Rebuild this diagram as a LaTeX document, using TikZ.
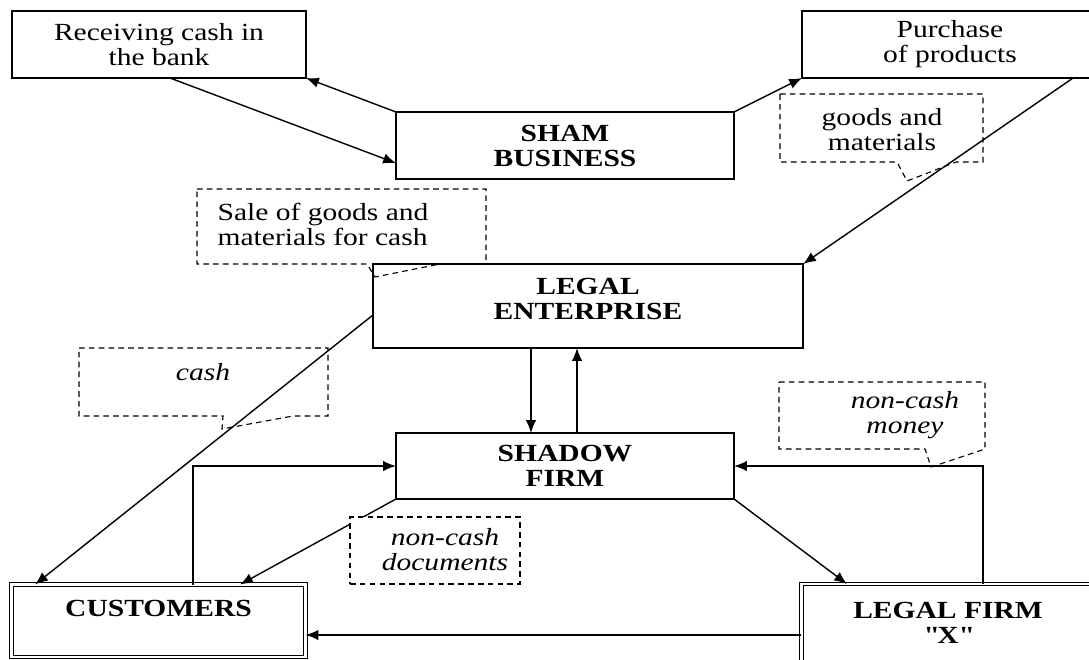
\documentclass[tikz,border=0pt]{standalone}
\usepackage{fontspec}
\setmainfont{Liberation Serif}[FakeStretch=1.2]
\usetikzlibrary{arrows.meta}
\tikzset{box/.style={draw, line width=0.9pt, align=center, inner sep=0pt, outer sep=0pt, font=\fontsize{17.5}{17.8}\selectfont}}
\tikzset{bbox/.style={box, font=\fontsize{17.5}{17.8}\selectfont\bfseries}}
\tikzset{dbox/.style={bbox, double, double distance=1.5pt, line width=0.8pt}}
\tikzset{note/.style={align=center, inner sep=0pt, font=\fontsize{17.5}{17.8}\selectfont}}
\tikzset{inote/.style={note, font=\fontsize{17.5}{17.8}\selectfont\itshape}}
\tikzset{dashbox/.style={line width=0.8pt, dash pattern=on 4pt off 3pt}}
\tikzset{link/.style={->, line width=1pt}}

\begin{document}
\begin{tikzpicture}[x=0.025cm, y=-0.025cm, >={Latex[length=3.2mm,width=2.6mm]}]
    \clip (0,0) rectangle (1089,659);

    \node[box, minimum width=7.35cm, minimum height=1.675cm] (bank) at (159,44.5) {Receiving cash in\\the bank};
    \node[box, minimum width=7.4cm, minimum height=1.675cm] (purchase) at (950,44.5) {Purchase\\of products};
    \node[bbox, minimum width=8.45cm, minimum height=1.675cm] (sham) at (565,145.5) {SHAM\\BUSINESS};
    \node[bbox, minimum width=10.75cm, minimum height=2.1cm] (legal) at (588,306) {LEGAL\\ENTERPRISE\\[-8pt]~};
    \node[bbox, minimum width=8.45cm, minimum height=1.65cm] (shadow) at (565,466) {SHADOW\\FIRM};
    \node[dbox, minimum width=7.35cm, minimum height=1.8125cm] (customers) at (158.5,620.75) {CUSTOMERS\\~};
    \node[dbox, minimum width=7.325cm, minimum height=1.95cm] (legalx) at (948,623) {LEGAL FIRM\\\textquotedbl X\textquotedbl};

    % callouts
    \draw[dashbox] (780,94) -- (983,94) -- (983,162) -- (956,162) -- (907,181) -- (897,162) -- (780,162) -- cycle;
    \node[note] (goodsnote) at (882,130) {goods and\\materials};
    \draw[dashbox] (197,189) -- (486,189) -- (486,264) -- (440,264) -- (375,277) -- (367,264) -- (197,264) -- cycle;
    \node[note, align=left] (salenote) at (323,224) {Sale of goods and\\materials for cash};
    \draw[dashbox] (79,348) -- (328,348) -- (328,416) -- (293,416) -- (222,429) -- (223,416) -- (79,416) -- cycle;
    \node[inote] (cashnote) at (203,372) {cash};
    \draw[dashbox] (779,382) -- (985,382) -- (985,449) -- (931,467) -- (925,449) -- (779,449) -- cycle;
    \node[inote] (moneynote) at (905,415) {non-cash\\money};

    \draw[link] ([xshift=0.275cm]bank.south) -- ([yshift=-0.44cm]sham.west);
    \draw[link] (sham.north west) -- (bank.south east);
    \draw[link] (sham.north east) -- (purchase.south west);
    \draw[link] ([xshift=3.075cm]purchase.south) -- (legal.north east);
    \draw[link] ([yshift=-0.225cm]legal.west) -- ([xshift=0.59cm]customers.north west);
    \draw[link] ([xshift=-1.425cm]legal.south) -- ([xshift=-1.425cm]legal.south |- shadow.north);
    \draw[link] ([xshift=0.3cm]shadow.north) -- ([xshift=0.3cm]shadow.north |- legal.south);
    \draw[link] ([xshift=0.8625cm]customers.north) |- (shadow.west);
    \draw[link] ([xshift=0.875cm]legalx.north) |- (shadow.east);
    \draw[link] (shadow.south west) -- ([xshift=2.04cm]customers.north);
    \draw[link] (shadow.south east) -- ([xshift=-2.525cm]legalx.north);
    \draw[link] ([yshift=-0.3cm]legalx.west) -- ([yshift=-0.3cm]legalx.west -| customers.east);

    \node[dashbox, draw, fill=white, minimum width=4.25cm, minimum height=1.675cm] (docs) at (435,550.5) {};
    \node[inote] (docsnote) at (445,550) {non-cash\\documents};
\end{tikzpicture}
\end{document}
